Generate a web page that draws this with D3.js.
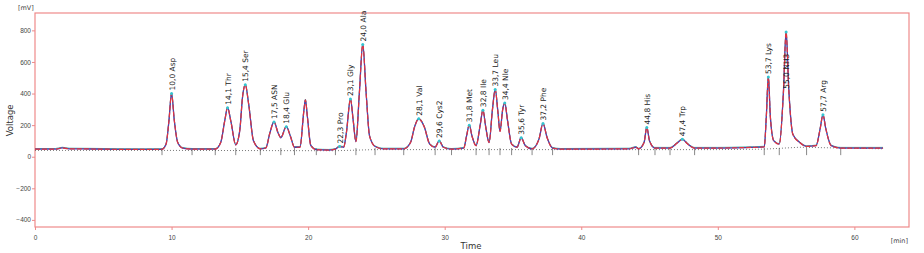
<!DOCTYPE html>
<html>
<head>
<meta charset="utf-8">
<script src="https://cdn.jsdelivr.net/npm/d3@7"></script>
<style>
  body { margin: 0; background: #fff; }
  svg { display: block; font-family: "DejaVu Sans", sans-serif; }
</style>
</head>
<body>
<div id="chart"></div>
<script>
// chromatogram trace (time in min, signal in mV)
const traceTime = [0, 1.5, 2.0, 2.5, 4, 6, 8, 9.3, 9.6, 9.8, 10.0, 10.2, 10.45, 10.8, 11.5,
  13.2, 13.6, 13.9, 14.1, 14.35, 14.7, 15.0, 15.2, 15.4, 15.65, 16.0, 16.5,
  16.9, 17.2, 17.5, 17.8, 18.0, 18.4, 18.7, 19.0, 19.4, 19.7, 19.8, 19.95, 20.2, 20.6,
  21.5, 22.0, 22.3, 22.6, 22.8, 23.1, 23.3, 23.5, 23.75, 24.0, 24.25, 24.5, 24.9, 25.5,
  27.0, 27.5, 27.8, 28.1, 28.5, 28.9, 29.3, 29.6, 29.9, 30.5,
  31.4, 31.6, 31.8, 32.0, 32.3, 32.6, 32.8, 33.0, 33.25, 33.5, 33.7, 33.9, 34.05, 34.25, 34.4, 34.6, 34.9,
  35.3, 35.6, 35.9, 36.4, 36.9, 37.2, 37.5, 37.9, 38.5,
  43.5, 44.0, 44.2, 44.6, 44.8, 45.0, 45.4, 46.5, 47.0, 47.4, 47.8, 48.3,
  50, 52, 53.4, 53.55, 53.7, 53.85, 54.1, 54.5, 54.8, 55.0, 55.2, 55.5, 56.0, 56.5,
  57.2, 57.5, 57.7, 57.9, 58.3, 59, 62.1];
const traceMv = [48, 48, 56, 50, 49, 47, 46, 47, 80, 220, 400, 230, 90, 55, 48,
  48, 90, 230, 310, 220, 75, 170, 380, 455, 330, 100, 50,
  55, 150, 220, 150, 120, 190, 130, 60, 60, 300, 360, 250, 70, 45,
  42, 48, 65, 60, 150, 365, 230, 95, 400, 710, 400, 130, 65, 50,
  50, 90, 190, 240, 190, 80, 60, 100, 60, 48,
  55, 130, 200, 130, 70, 200, 295, 190, 90, 300, 425, 280, 160, 300, 340, 230, 80,
  60, 120, 70, 50, 110, 210, 120, 55, 48,
  50, 60, 50, 90, 185, 100, 55, 55, 85, 110, 80, 55,
  55, 58, 62, 250, 505, 250, 100, 80, 400, 790, 420, 140, 90, 65,
  70, 180, 265, 180, 70, 55, 55];

// integration baseline
const baseTime = [0, 9.3, 22.0, 24.9, 50, 53.4, 56.0, 62.1];
const baseMv = [40, 40, 38, 45, 45, 48, 60, 50];

// identified peaks
const peakTime = [10.0, 14.1, 15.4, 17.5, 18.4, 22.3, 23.1, 24.0, 28.1, 29.6, 31.8, 32.8, 33.7, 34.4, 35.6, 37.2, 44.8, 47.4, 53.7, 55.0, 57.7];
const peakMv = [400, 310, 455, 220, 190, 65, 365, 710, 240, 100, 200, 295, 425, 340, 120, 210, 185, 110, 505, 790, 265];
const peakName = ["10,0 Asp", "14,1 Thr", "15,4 Ser", "17,5 ASN", "18,4 Glu", "22,3 Pro", "23,1 Gly", "24,0 Ala",
  "28,1 Val", "29,6 Cys2", "31,8 Met", "32,8 Ile", "33,7 Leu", "34,4 Nle", "35,6 Tyr", "37,2 Phe",
  "44,8 His", "47,4 Trp", "53,7 Lys", "55,0 NH3", "57,7 Arg"];

// peak boundary markers
const markTime = [9.3, 11.5, 13.2, 14.7, 16.5, 18.0, 19.0, 20.6, 22.0, 23.5, 24.9, 27.0, 29.3, 30.5, 32.3, 33.25, 34.05, 34.9, 36.4, 37.9, 44.2, 45.4, 46.5, 48.3, 53.4, 54.5, 56.5, 59];

const xTicks = [0, 10, 20, 30, 40, 50, 60];
const yTicks = [-400, -200, 0, 200, 400, 600, 800];

const width = 924, height = 253;
const margin = {left: 35, right: 15, top: 13, bottom: 26};
const frameColor = "#ee8a8a";

const svg = d3.select("#chart").append("svg")
  .attr("width", width)
  .attr("height", height);

const x = d3.scaleLinear().domain([0, 64]).range([margin.left, width - margin.right]);
const y = d3.scaleLinear().domain([-445, 910]).range([height - margin.bottom, margin.top]);

// frame
svg.append("rect")
  .attr("x", margin.left).attr("y", margin.top)
  .attr("width", width - margin.left - margin.right)
  .attr("height", height - margin.top - margin.bottom)
  .attr("fill", "none")
  .attr("stroke", frameColor)
  .attr("stroke-width", 1.2);

const xAxis = svg.append("g")
  .attr("transform", `translate(0,${height - margin.bottom})`)
  .call(d3.axisBottom(x).tickValues(xTicks).tickSize(3).tickPadding(5));
const yAxis = svg.append("g")
  .attr("transform", `translate(${margin.left},0)`)
  .call(d3.axisLeft(y).tickValues(yTicks).tickSize(3).tickPadding(1));
[xAxis, yAxis].forEach(g => {
  g.select(".domain").remove();
  g.selectAll("line").attr("stroke", frameColor);
  g.selectAll("text").attr("fill", "#444").style("font-size", "6.5px");
});

svg.append("text").attr("x", 18).attr("y", 10).attr("fill", "#444")
  .style("font-size", "6.5px").text("[mV]");
svg.append("text").attr("x", 908).attr("y", 243).attr("text-anchor", "end").attr("fill", "#444")
  .style("font-size", "6.5px").text("[min]");
svg.append("text").attr("x", 471).attr("y", 249).attr("text-anchor", "middle").attr("fill", "#333")
  .style("font-size", "8.5px").text("Time");
svg.append("text")
  .attr("transform", `translate(13,${y(230)}) rotate(-90)`)
  .attr("text-anchor", "middle").attr("fill", "#333")
  .style("font-size", "8.5px").text("Voltage");

const trace = traceTime.map((t, i) => [t, traceMv[i]]);
const base = baseTime.map((t, i) => [t, baseMv[i]]);

const line = d3.line().x(d => x(d[0])).y(d => y(d[1])).curve(d3.curveMonotoneX);
const baseLine = d3.line().x(d => x(d[0])).y(d => y(d[1]));

// dotted integration baseline
svg.append("path")
  .attr("d", baseLine(base))
  .attr("fill", "none")
  .attr("stroke", "#555")
  .attr("stroke-width", 0.8)
  .attr("stroke-dasharray", "1,2");

// boundary markers
svg.selectAll(".mark")
  .data(markTime)
  .join("line")
  .attr("class", "mark")
  .attr("x1", d => x(d)).attr("x2", d => x(d))
  .attr("y1", y(55)).attr("y2", y(10))
  .attr("stroke", "#555")
  .attr("stroke-width", 0.7);

// teal, blue and red traces stacked
svg.append("path")
  .attr("d", line(trace.map(d => [d[0], d[1] + 4])))
  .attr("fill", "none")
  .attr("stroke", "#3aa7a0")
  .attr("stroke-width", 0.9);
svg.append("path")
  .attr("d", line(trace))
  .attr("fill", "none")
  .attr("stroke", "#4a3fae")
  .attr("stroke-width", 1.3);
svg.append("path")
  .attr("d", line(trace))
  .attr("fill", "none")
  .attr("stroke", "#e4343e")
  .attr("stroke-width", 1.2)
  .attr("stroke-dasharray", "5,2");

// peak tops
svg.selectAll(".top")
  .data(peakTime)
  .join("circle")
  .attr("class", "top")
  .attr("cx", d => x(d))
  .attr("cy", (d, i) => y(peakMv[i]))
  .attr("r", 1.5)
  .attr("fill", "#35c4d0");

// labels sit above each peak; one that would leave the picture is pulled down beside its peak
const labels = svg.selectAll(".lbl")
  .data(peakTime)
  .join("text")
  .attr("class", "lbl")
  .attr("fill", "#222")
  .style("font-size", "7.5px")
  .text((d, i) => peakName[i]);
labels.attr("transform", function(d, i) {
  const len = this.getComputedTextLength();
  let top = y(peakMv[i]) - 3;
  if (top - len < 2) top = y(430);
  return `translate(${x(d) + 3},${top}) rotate(-90)`;
});
</script>
</body>
</html>
